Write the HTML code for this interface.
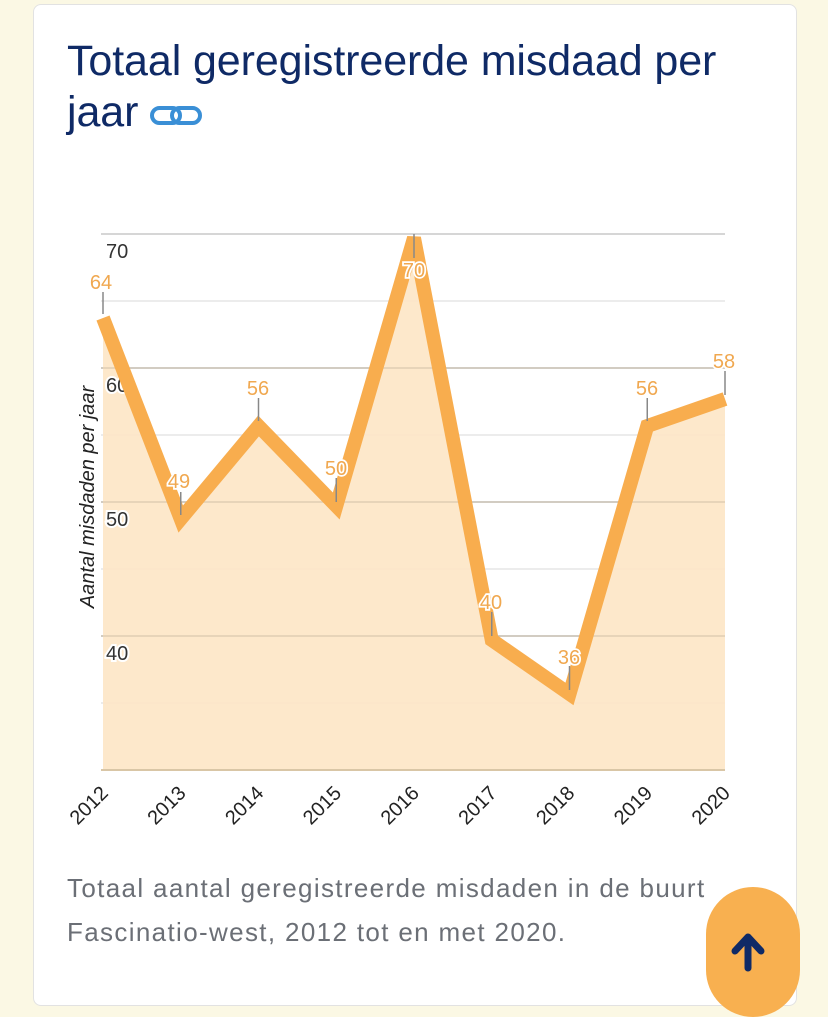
<!DOCTYPE html>
<html><head><meta charset="utf-8"><style>
html,body{margin:0;padding:0;}
body{width:828px;height:988px;background:#fbf8e4;position:relative;overflow:hidden;font-family:"Liberation Sans",sans-serif;}
.card{position:absolute;left:33px;top:4px;width:762px;height:1000px;background:#fff;border:1px solid #e2e2e2;border-radius:8px;}
.title{position:absolute;left:67px;top:36px;width:740px;font-size:43px;line-height:51px;color:#0f2a66;letter-spacing:-0.1px;white-space:nowrap;}
.cap{position:absolute;left:67px;top:866px;font-size:26px;line-height:44px;color:#6b6f76;letter-spacing:1.35px;white-space:nowrap;}
.btn{position:absolute;left:706px;top:887px;width:94px;height:130px;background:#f8b050;border-radius:47px;}
</style></head><body>
<div class="card"></div>
<div class="title">Totaal geregistreerde misdaad per<br>jaar <svg width="54" height="26" viewBox="0 0 54 26" style="vertical-align:-2px"><rect x="2" y="6" width="28" height="15" rx="7.5" fill="none" stroke="#3a8fd6" stroke-width="4"/><rect x="22" y="6" width="28" height="15" rx="7.5" fill="none" stroke="#3a8fd6" stroke-width="4"/></svg></div>
<svg style="position:absolute;left:0;top:0" width="828" height="988">
<g stroke-width="1.5">
<line x1="101" x2="725" y1="234" y2="234" stroke="#c8c8c8"/>
<line x1="101" x2="725" y1="301" y2="301" stroke="#e6e6e6"/>
<line x1="101" x2="725" y1="368" y2="368" stroke="#c8c8c8"/>
<line x1="101" x2="725" y1="435" y2="435" stroke="#e6e6e6"/>
<line x1="101" x2="725" y1="502" y2="502" stroke="#c8c8c8"/>
<line x1="101" x2="725" y1="569" y2="569" stroke="#e6e6e6"/>
<line x1="101" x2="725" y1="636" y2="636" stroke="#c8c8c8"/>
<line x1="101" x2="725" y1="703" y2="703" stroke="#e6e6e6"/>
</g>
<polygon fill="#fde6c7" opacity="0.92" points="103,318 180.75,519 258.5,426 336.25,506 414,238 491.75,640 569.5,694 647.25,426 725,399 725,770 103,770"/>
<g stroke-width="1.5" opacity="0.5">
<line x1="101" x2="725" y1="502" y2="502" stroke="#c8b8a0"/>
<line x1="101" x2="725" y1="636" y2="636" stroke="#c8b8a0"/>
<line x1="101" x2="725" y1="368" y2="368" stroke="#c8b8a0"/>
</g>
<line x1="101" x2="725" y1="770" y2="770" stroke="#d9c6a6" stroke-width="2"/>
<text transform="translate(94,497) rotate(-90)" text-anchor="middle" font-size="20" font-style="italic" fill="#222">Aantal misdaden per jaar</text>
<g font-size="20" fill="#333" stroke="#fff" stroke-width="4" paint-order="stroke">
<text x="106" y="258">70</text><text x="106" y="392">60</text><text x="106" y="526">50</text><text x="106" y="660">40</text>
</g>
<polyline fill="none" stroke="#f8ad4e" stroke-width="14" stroke-linejoin="miter" points="103,318 180.75,519 258.5,426 336.25,506 414,238 491.75,640 569.5,694 647.25,426 725,399"/>
<g stroke="#888" stroke-width="1.5">
<line x1="103" x2="103" y1="292" y2="314"/>
<line x1="180.75" x2="180.75" y1="492" y2="515"/>
<line x1="258.5" x2="258.5" y1="398" y2="421"/>
<line x1="336.25" x2="336.25" y1="478" y2="502"/>
<line x1="414" x2="414" y1="234" y2="258"/>
<line x1="491.75" x2="491.75" y1="612" y2="636"/>
<line x1="569.5" x2="569.5" y1="666" y2="690"/>
<line x1="647.25" x2="647.25" y1="398" y2="421"/>
<line x1="725" x2="725" y1="371" y2="395"/>
</g>
<g font-size="20" fill="#f0a850" stroke="#fff" stroke-width="3.5" paint-order="stroke" text-anchor="middle">
<text x="101" y="289">64</text><text x="179" y="488">49</text><text x="258" y="395">56</text><text x="336" y="475">50</text><text x="414" y="277">70</text><text x="491" y="609">40</text><text x="569" y="664">36</text><text x="647" y="395">56</text><text x="724" y="368">58</text>
</g>
<g font-size="20" fill="#222">
<text transform="translate(105,790) rotate(-45)" text-anchor="end" dy="6">2012</text>
<text transform="translate(182.75,790) rotate(-45)" text-anchor="end" dy="6">2013</text>
<text transform="translate(260.5,790) rotate(-45)" text-anchor="end" dy="6">2014</text>
<text transform="translate(338.25,790) rotate(-45)" text-anchor="end" dy="6">2015</text>
<text transform="translate(416,790) rotate(-45)" text-anchor="end" dy="6">2016</text>
<text transform="translate(493.75,790) rotate(-45)" text-anchor="end" dy="6">2017</text>
<text transform="translate(571.5,790) rotate(-45)" text-anchor="end" dy="6">2018</text>
<text transform="translate(649.25,790) rotate(-45)" text-anchor="end" dy="6">2019</text>
<text transform="translate(727,790) rotate(-45)" text-anchor="end" dy="6">2020</text>
</g>
</svg>
<div class="cap">Totaal aantal geregistreerde misdaden in de buurt<br>Fascinatio-west, 2012 tot en met 2020.</div>
<div class="btn"></div>
<svg style="position:absolute;left:730px;top:930px" width="36" height="42"><path d="M18 38 V8 M5 21 L18 7 L31 21" fill="none" stroke="#0f2a66" stroke-width="7" stroke-linecap="round" stroke-linejoin="round"/></svg>
</body></html>
